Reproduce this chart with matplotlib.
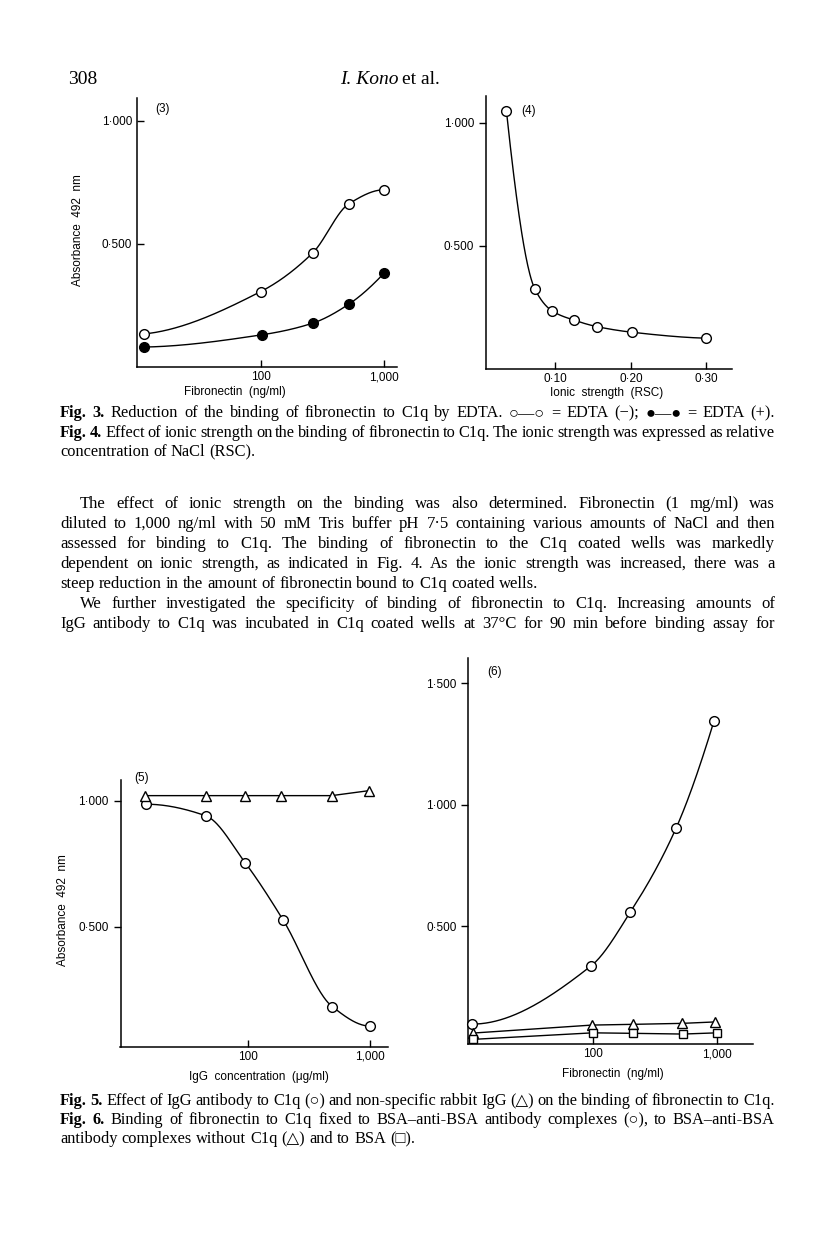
import matplotlib
matplotlib.use('Agg')
import matplotlib.pyplot as plt
from matplotlib.ticker import NullLocator, FixedLocator, FixedFormatter
import numpy as np

# ---- data ----
# Fig. 3: fibronectin (ng/ml) vs absorbance, EDTA(-) open, EDTA(+) filled
fig3_x_minus = [11.3, 100, 264, 519, 1000]
fig3_edta_minus = [0.134, 0.306, 0.463, 0.663, 0.720]
fig3_x_plus = [11.3, 103, 264, 525, 1000]
fig3_edta_plus = [0.081, 0.131, 0.178, 0.257, 0.381]

# Fig. 4: ionic strength (RSC) vs absorbance
fig4_rsc = [0.035, 0.073, 0.096, 0.125, 0.155, 0.202, 0.300]
fig4_abs = [1.049, 0.323, 0.235, 0.198, 0.172, 0.149, 0.125]

# Fig. 5: IgG concentration (ug/ml)
fig5_x_anti = [14.4, 44.7, 94.5, 193, 490, 1000]
fig5_anti_c1q = [0.986, 0.940, 0.753, 0.527, 0.183, 0.106]
fig5_x_rabbit = [14.2, 44.7, 94.5, 186, 484, 990]
fig5_rabbit = [1.020, 1.020, 1.020, 1.020, 1.020, 1.040]

# Fig. 6: fibronectin (ng/ml)
fig6_x_c1q = [10.7, 97, 201, 468, 946]
fig6_c1q = [0.096, 0.336, 0.558, 0.903, 1.345]
fig6_x_noc1q = [10.8, 98.6, 209, 522, 968]
fig6_noc1q = [0.059, 0.092, 0.095, 0.099, 0.105]
fig6_x_bsa = [10.8, 100, 209, 532, 1000]
fig6_bsa = [0.033, 0.060, 0.058, 0.055, 0.060]

abs_ticks = [0.5, 1.0]
abs_labels = ['0·500', '1·000']
abs_ticks6 = [0.5, 1.0, 1.5]
abs_labels6 = ['0·500', '1·000', '1·500']
log_ticks = [100, 1000]
log_labels = ['100', '1,000']
rsc_ticks = [0.10, 0.20, 0.30]
rsc_labels = ['0·10', '0·20', '0·30']

W, H = 816, 1238
SERIF = ['Liberation Serif', 'DejaVu Serif', 'DejaVu Sans']
SANS = ['Liberation Sans', 'DejaVu Sans']
plt.rcParams['font.family'] = SANS

fig = plt.figure(figsize=(W / 100, H / 100), dpi=100)
fig.patch.set_facecolor('white')


def fx(x):
    return x / W


def fy(y):
    return 1 - y / H


def make_axes(left, top, right, bottom):
    ax = fig.add_axes([left / W, 1 - bottom / H, (right - left) / W, (bottom - top) / H])
    for s in ['top', 'right']:
        ax.spines[s].set_visible(False)
    for s in ['left', 'bottom']:
        ax.spines[s].set_linewidth(1.1)
    ax.tick_params(labelsize=8.5, width=1.0, length=5, direction='out')
    ax.tick_params(axis='x', direction='in', pad=3)
    return ax


def pchip(x, y, n=300):
    """monotone cubic curve through the points (Fritsch-Carlson)"""
    x = np.asarray(x, float)
    y = np.asarray(y, float)
    h = np.diff(x)
    d = np.diff(y) / h
    m = np.zeros_like(y)
    for k in range(1, len(x) - 1):
        if d[k - 1] * d[k] > 0:
            w1 = 2 * h[k] + h[k - 1]
            w2 = h[k] + 2 * h[k - 1]
            m[k] = (w1 + w2) / (w1 / d[k - 1] + w2 / d[k])

    def end(h0, h1, d0, d1):
        s = ((2 * h0 + h1) * d0 - h0 * d1) / (h0 + h1)
        if np.sign(s) != np.sign(d0):
            s = 0
        elif abs(s) > abs(3 * d0):
            s = 3 * d0
        return s
    m[0] = end(h[0], h[1], d[0], d[1])
    m[-1] = end(h[-1], h[-2], d[-1], d[-2])
    xs = np.linspace(x[0], x[-1], n)
    i = np.clip(np.searchsorted(x, xs) - 1, 0, len(h) - 1)
    t = (xs - x[i]) / h[i]
    h00 = 2 * t**3 - 3 * t**2 + 1
    h10 = t**3 - 2 * t**2 + t
    h01 = -2 * t**3 + 3 * t**2
    h11 = t**3 - t**2
    ys = h00 * y[i] + h10 * h[i] * m[i] + h01 * y[i + 1] + h11 * h[i] * m[i + 1]
    return xs, ys


def smooth_log(x, y):
    xs, ys = pchip(np.log10(x), y)
    return 10 ** xs, ys


LW = 1.0
open_kw = dict(marker='o', ms=7, mfc='white', mec='black', mew=1.0, ls='none', zorder=5, clip_on=False)

# ---------- Fig. 3 ----------
ax3 = make_axes(137, 98, 397, 367)
ax3.set_xscale('log')
ax3.set_xlim(10, 1274)
ax3.set_ylim(0, 1.093)
ax3.tick_params(axis='y', direction='in')
xs, ys = smooth_log(fig3_x_minus, fig3_edta_minus)
ax3.plot(xs, ys, color='black', lw=LW, clip_on=False)
ax3.plot(fig3_x_minus, fig3_edta_minus, **open_kw)
xs, ys = smooth_log(fig3_x_plus, fig3_edta_plus)
ax3.plot(xs, ys, color='black', lw=LW, clip_on=False)
ax3.plot(fig3_x_plus, fig3_edta_plus, marker='o', ms=7, mfc='black', mec='black',
         ls='none', zorder=5, clip_on=False)

# ---------- Fig. 4 ----------
ax4 = make_axes(486, 96, 732, 369)
ax4.set_xlim(0.008, 0.334)
ax4.set_ylim(0, 1.108)
xs, ys = pchip(fig4_rsc, fig4_abs)
ax4.plot(xs, ys, color='black', lw=LW, clip_on=False)
ax4.plot(fig4_rsc, fig4_abs, **open_kw)
ax4.xaxis.set_major_locator(FixedLocator(rsc_ticks))
ax4.xaxis.set_major_formatter(FixedFormatter(rsc_labels))

# ---------- Fig. 5 ----------
ax5 = make_axes(120.5, 780, 388, 1046.5)
ax5.set_xscale('log')
ax5.set_xlim(8.9, 1406)
ax5.set_ylim(0.025, 1.082)
xs, ys = smooth_log(fig5_x_anti, fig5_anti_c1q)
ax5.plot(xs, ys, color='black', lw=LW, clip_on=False)
ax5.plot(fig5_x_anti, fig5_anti_c1q, **open_kw)
ax5.plot(fig5_x_rabbit, fig5_rabbit, color='black', lw=LW, clip_on=False)
ax5.plot(fig5_x_rabbit, fig5_rabbit, marker='^', ms=6.5, mfc='white', mec='black', mew=1.0,
         ls='none', zorder=5, clip_on=False)

# ---------- Fig. 6 ----------
ax6 = make_axes(468.5, 658, 753, 1044)
ax6.set_xscale('log')
ax6.set_xlim(10, 1950)
ax6.set_ylim(0.014, 1.605)
xs, ys = smooth_log(fig6_x_c1q, fig6_c1q)
ax6.plot(xs, ys, color='black', lw=LW, clip_on=False)
ax6.plot(fig6_x_c1q, fig6_c1q, **open_kw)
ax6.plot(fig6_x_noc1q, fig6_noc1q, color='black', lw=LW, clip_on=False)
ax6.plot(fig6_x_noc1q, fig6_noc1q, marker='^', ms=6.5, mfc='white', mec='black', mew=1.0,
         ls='none', zorder=6, clip_on=False)
ax6.plot(fig6_x_bsa, fig6_bsa, color='black', lw=LW, clip_on=False)
ax6.plot(fig6_x_bsa, fig6_bsa, marker='s', ms=5.5, mfc='white', mec='black', mew=1.0,
         ls='none', zorder=6, clip_on=False)

for ax in (ax3, ax5, ax6):
    ax.xaxis.set_major_locator(FixedLocator(log_ticks))
    ax.xaxis.set_major_formatter(FixedFormatter(log_labels))
    ax.xaxis.set_minor_locator(NullLocator())
for ax in (ax3, ax4, ax5):
    ax.yaxis.set_major_locator(FixedLocator(abs_ticks))
    ax.yaxis.set_major_formatter(FixedFormatter(abs_labels))
ax6.yaxis.set_major_locator(FixedLocator(abs_ticks6))
ax6.yaxis.set_major_formatter(FixedFormatter(abs_labels6))

# axis labels and panel numbers
lab = dict(fontsize=8.5, family=SANS, ha='center', va='center')
fig.text(fx(235), fy(392), 'Fibronectin  (ng/ml)', **lab)
fig.text(fx(607), fy(393), 'Ionic  strength  (RSC)', **lab)
fig.text(fx(259), fy(1077), 'IgG  concentration  (μg/ml)', **lab)
fig.text(fx(613), fy(1074), 'Fibronectin  (ng/ml)', **lab)
fig.text(fx(78), fy(230), 'Absorbance  492  nm', rotation=90, **lab)
fig.text(fx(63), fy(910), 'Absorbance  492  nm', rotation=90, **lab)
fig.text(fx(163), fy(109), '(3)', **lab)
fig.text(fx(529), fy(111), '(4)', **lab)
fig.text(fx(142), fy(778), '(5)', **lab)
fig.text(fx(495), fy(672), '(6)', **lab)

# ---------- page text ----------
renderer = fig.canvas.get_renderer()
TXT = 12.0
CAP = 11.8


def text_line(line, x0, x1, y, bold=0, justify=True, size=TXT):
    words = line.split()
    objs = []
    for k, w in enumerate(words):
        t = fig.text(0, fy(y), w, fontsize=size, family=SERIF, va='center',
                     fontweight='bold' if k < bold else 'normal')
        objs.append(t)
    widths = [t.get_window_extent(renderer).width for t in objs]
    if justify and len(objs) > 1:
        gap = (x1 - x0 - sum(widths)) / (len(objs) - 1)
    else:
        gap = size * 0.25 * 100 / 72
    x = x0
    for t, w in zip(objs, widths):
        t.set_x(fx(x))
        x += w + gap


# running head
fig.text(fx(68), fy(80), '308', fontsize=14, family=SERIF, va='center')
head1 = fig.text(fx(340), fy(80), 'I. Kono', fontsize=14, family=SERIF, style='italic', va='center')
w1 = head1.get_window_extent(renderer).width
fig.text(fx(340 + w1 + 4), fy(80), 'et al.', fontsize=14, family=SERIF, va='center')

L, R = 60, 775
text_line('Fig. 3. Reduction of the binding of fibronectin to C1q by EDTA. ○—○ = EDTA (−); ●—● = EDTA (+).',
          L, R, 413, bold=2, size=CAP)
text_line('Fig. 4. Effect of ionic strength on the binding of fibronectin to C1q. The ionic strength was expressed as relative',
          L, R, 433, bold=2, size=CAP)
text_line('concentration of NaCl (RSC).', L, R, 452, justify=False, size=CAP)

para = [
    ('The effect of ionic strength on the binding was also determined. Fibronectin (1 mg/ml) was', 80, True),
    ('diluted to 1,000 ng/ml with 50 mM Tris buffer pH 7·5 containing various amounts of NaCl and then', L, True),
    ('assessed for binding to C1q. The binding of fibronectin to the C1q coated wells was markedly', L, True),
    ('dependent on ionic strength, as indicated in Fig. 4. As the ionic strength was increased, there was a', L, True),
    ('steep reduction in the amount of fibronectin bound to C1q coated wells.', L, False),
    ('We further investigated the specificity of binding of fibronectin to C1q. Increasing amounts of', 80, True),
    ('IgG antibody to C1q was incubated in C1q coated wells at 37°C for 90 min before binding assay for', L, True),
]
for k, (line, x0, just) in enumerate(para):
    text_line(line, x0, R, 504 + 20 * k, justify=just)

text_line('Fig. 5. Effect of IgG antibody to C1q (○) and non-specific rabbit IgG (△) on the binding of fibronectin to C1q.',
          L, R, 1101, bold=2, size=CAP)
text_line('Fig. 6. Binding of fibronectin to C1q fixed to BSA–anti-BSA antibody complexes (○), to BSA–anti-BSA',
          L, R, 1120, bold=2, size=CAP)
text_line('antibody complexes without C1q (△) and to BSA (□).', L, R, 1139, justify=False, size=CAP)

fig.savefig('out.png', dpi=100, facecolor='white')
